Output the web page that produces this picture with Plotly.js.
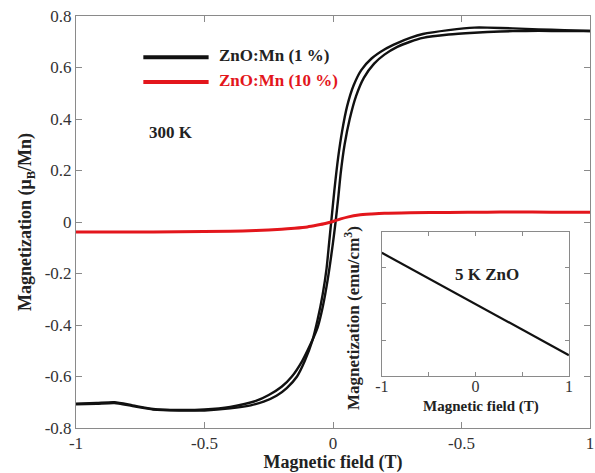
<!DOCTYPE html>
<html>
<head>
<meta charset="utf-8">
<script src="https://cdn.plot.ly/plotly-3.0.1.min.js"></script>
<style>html,body{margin:0;padding:0;background:#fff;}#chart{width:595px;height:473px;}</style>
</head>
<body>
<div id="chart"></div>
<script>
// Main panel: ZnO:Mn (1 %) hysteresis loop, ascending branch (-1 -> 1 T)
const mn1UpField = [-1, -0.92, -0.85, -0.78, -0.70, -0.6, -0.5, -0.4, -0.3, -0.25, -0.2, -0.16, -0.12, -0.09, -0.06, -0.04, -0.02, 0.0, 0.01, 0.02, 0.03, 0.045, 0.065, 0.09, 0.12, 0.16, 0.2, 0.25, 0.3, 0.35, 0.45, 0.55, 0.65, 0.75, 0.85, 1.0];
const mn1UpMag = [-0.706, -0.703, -0.700, -0.712, -0.726, -0.730, -0.728, -0.718, -0.695, -0.672, -0.64, -0.60, -0.54, -0.48, -0.41, -0.33, -0.22, -0.08, 0.0, 0.09, 0.19, 0.30, 0.40, 0.49, 0.56, 0.615, 0.65, 0.68, 0.70, 0.715, 0.728, 0.735, 0.74, 0.742, 0.742, 0.742];
// descending branch (1 -> -1 T)
const mn1DownField = [1.0, 0.9, 0.8, 0.7, 0.6, 0.55, 0.45, 0.35, 0.3, 0.25, 0.2, 0.15, 0.11, 0.08, 0.055, 0.035, 0.02, 0.005, -0.005, -0.015, -0.025, -0.04, -0.06, -0.08, -0.11, -0.14, -0.18, -0.22, -0.27, -0.32, -0.4, -0.5, -0.6, -0.7, -0.78, -0.85, -0.92, -1.0];
const mn1DownMag = [0.742, 0.745, 0.748, 0.752, 0.755, 0.755, 0.745, 0.73, 0.715, 0.695, 0.67, 0.635, 0.59, 0.53, 0.45, 0.35, 0.25, 0.12, 0.02, -0.08, -0.18, -0.28, -0.38, -0.46, -0.54, -0.60, -0.645, -0.675, -0.698, -0.712, -0.724, -0.732, -0.732, -0.728, -0.715, -0.703, -0.706, -0.708];
// ZnO:Mn (10 %)
const mn10Field = [-1, -0.8, -0.6, -0.4, -0.3, -0.2, -0.15, -0.1, -0.06, -0.03, 0, 0.03, 0.06, 0.1, 0.15, 0.2, 0.3, 0.45, 0.6, 0.7, 0.85, 1];
const mn10Mag = [-0.039, -0.039, -0.038, -0.036, -0.033, -0.028, -0.024, -0.019, -0.012, -0.006, 0.002, 0.012, 0.02, 0.027, 0.031, 0.034, 0.036, 0.037, 0.038, 0.039, 0.038, 0.038];
// Inset: 5 K ZnO
const insetField = [-1, -0.5, 0, 0.5, 1];
const insetMag = [3.42, 2.71, 2.0, 1.29, 0.58];

const xTickVals = [-1, -0.5, 0, 0.5, 1];
const xTickText = ['-1', '-0.5', '0', '-0.5', '1'];
const yTickVals = [-0.8, -0.6, -0.4, -0.2, 0, 0.2, 0.4, 0.6, 0.8];
const yTickText = ['-0.8', '-0.6', '-0.4', '-0.2', '0', '0.2', '0.4', '0.6', '0.8'];
const insetXTickVals = [-1, 0, 1];
const insetXTickText = ['-1', '0', '1'];
const insetXMinorVals = [-0.5, 0.5];
const insetYTickVals = [0, 1, 2, 3, 4];

const seriesNames = ['ZnO:Mn (1 %)', 'ZnO:Mn (10 %)'];
const BLACK = '#111111', RED = '#e3161c';
const SERIF = '"Liberation Serif", "Times New Roman", Times, serif';
const AX = '#8a8a8a';

const traces = [
  {x: mn1UpField, y: mn1UpMag, mode: 'lines', line: {color: BLACK, width: 2.4, shape: 'spline', smoothing: 0.6}, name: seriesNames[0], xaxis: 'x', yaxis: 'y'},
  {x: mn1DownField, y: mn1DownMag, mode: 'lines', line: {color: BLACK, width: 2.4, shape: 'spline', smoothing: 0.6}, name: seriesNames[0], xaxis: 'x', yaxis: 'y'},
  {x: mn10Field, y: mn10Mag, mode: 'lines', line: {color: RED, width: 3, shape: 'spline', smoothing: 0.6}, name: seriesNames[1], xaxis: 'x', yaxis: 'y'},
  {x: insetField, y: insetMag, mode: 'lines', line: {color: BLACK, width: 2.2}, name: '5 K ZnO', xaxis: 'x2', yaxis: 'y2'}
];

const axCommon = {showgrid: false, zeroline: false, showline: true, linecolor: AX, linewidth: 1, mirror: 'ticks', ticks: 'inside', ticklen: 6, tickcolor: AX, tickwidth: 1};

const layout = {
  width: 595, height: 473,
  margin: {l: 76, r: 5, t: 16, b: 45},
  paper_bgcolor: '#fff', plot_bgcolor: '#fff',
  showlegend: false,
  font: {family: SERIF, color: '#222', size: 17},
  xaxis: Object.assign({}, axCommon, {
    range: [-1, 1], tickmode: 'array', tickvals: xTickVals, ticktext: xTickText,
    tickfont: {family: SERIF, size: 17, color: '#333'},
    domain: [0, 1], anchor: 'y',
    title: {text: '<b>Magnetic field (T)</b>', font: {family: SERIF, size: 18, color: '#222'}, standoff: 6}
  }),
  yaxis: Object.assign({}, axCommon, {
    range: [-0.8, 0.8], tickmode: 'array', tickvals: yTickVals, ticktext: yTickText,
    tickfont: {family: SERIF, size: 17, color: '#333'},
    domain: [0, 1], anchor: 'x',
    title: {text: '<b>Magnetization (μ<sub>B</sub>/Mn)</b>', font: {family: SERIF, size: 18, color: '#222'}, standoff: 8}
  }),
  xaxis2: Object.assign({}, axCommon, {
    range: [-1, 1], tickmode: 'array', tickvals: insetXTickVals, ticktext: insetXTickText,
    tickfont: {family: SERIF, size: 16, color: '#333'}, ticklen: 4, ticklabelstandoff: -4,
    minor: {tickmode: 'array', tickvals: insetXMinorVals, ticks: 'inside', ticklen: 4, tickcolor: AX, tickwidth: 1, showgrid: false},
    domain: [0.595, 0.959], anchor: 'y2'
  }),
  yaxis2: Object.assign({}, axCommon, {
    range: [0, 4], tickmode: 'array', tickvals: insetYTickVals, showticklabels: false, ticklen: 4,
    domain: [0.126, 0.476], anchor: 'x2'
  }),
  shapes: [
    {type: 'line', xref: 'paper', yref: 'paper', x0: 0.131, x1: 0.258, y0: 0.900, y1: 0.900, line: {color: BLACK, width: 4}},
    {type: 'line', xref: 'paper', yref: 'paper', x0: 0.131, x1: 0.258, y0: 0.840, y1: 0.840, line: {color: RED, width: 4}}
  ],
  annotations: [
    {xref: 'paper', yref: 'paper', x: 0.275, y: 0.905, xanchor: 'left', yanchor: 'middle', showarrow: false,
     text: '<b>' + seriesNames[0] + '</b>', font: {family: SERIF, size: 17, color: '#222'}},
    {xref: 'paper', yref: 'paper', x: 0.275, y: 0.843, xanchor: 'left', yanchor: 'middle', showarrow: false,
     text: '<b>' + seriesNames[1] + '</b>', font: {family: SERIF, size: 17, color: RED}},
    {xref: 'paper', yref: 'paper', x: 0.138, y: 0.718, xanchor: 'left', yanchor: 'middle', showarrow: false,
     text: '<b>300 K</b>', font: {family: SERIF, size: 17, color: '#222'}},
    {xref: 'paper', yref: 'paper', x: 0.799, y: 0.372, xanchor: 'center', yanchor: 'middle', showarrow: false,
     text: '<b>5 K ZnO</b>', font: {family: SERIF, size: 17, color: '#222'}},
    {xref: 'paper', yref: 'paper', x: 0.787, y: 0.053, xanchor: 'center', yanchor: 'middle', showarrow: false,
     text: '<b>Magnetic field (T)</b>', font: {family: SERIF, size: 15, color: '#222'}},
    {xref: 'paper', yref: 'paper', x: 0.537, y: 0.267, xanchor: 'center', yanchor: 'middle', showarrow: false, textangle: -90,
     text: '<b>Magnetization (emu/cm<sup>3</sup>)</b>', font: {family: SERIF, size: 17, color: '#222'}}
  ]
};

Plotly.newPlot('chart', traces, layout, {displayModeBar: false, staticPlot: true});
</script>
</body>
</html>
